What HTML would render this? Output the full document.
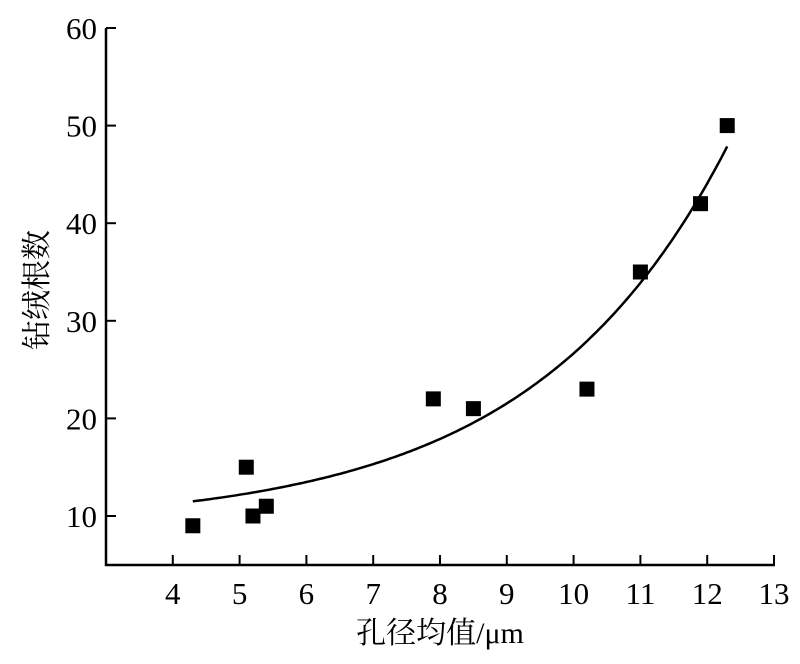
<!DOCTYPE html>
<html><head><meta charset="utf-8"><style>
html,body{margin:0;padding:0;background:#fff;}
svg{display:block;}
text{font-family:"Liberation Serif","Noto Serif CJK SC",serif;fill:#000;}
</style></head><body>
<svg id="s" width="800" height="664" viewBox="0 0 800 664">
<g stroke="#000" stroke-width="2.5" fill="none">
<line x1="106" y1="28" x2="106" y2="566"/>
<line x1="105" y1="565" x2="775" y2="565"/>
</g>
<g id="ticks" stroke="#000" stroke-width="2"></g>
<g id="labels" font-size="31"></g>
<path id="curve" fill="none" stroke="#000" stroke-width="2.5"/>
<g id="pts" fill="#000"></g>
<text x="440" y="643" font-size="30" text-anchor="middle">孔径均值/μm</text>
<text transform="translate(47,290) rotate(-90)" font-size="30" text-anchor="middle">钻绒根数</text>
</svg>
<script>
var X=function(v){return 106+(v-3)*66.8;},Y=function(v){return 516-(v-10)*9.76;};
var t=document.getElementById('ticks'),l=document.getElementById('labels'),ns='http://www.w3.org/2000/svg';
function el(p,n,a,txt){var e=document.createElementNS(ns,n);for(var k in a)e.setAttribute(k,a[k]);if(txt)e.textContent=txt;p.appendChild(e);}
for(var i=4;i<=13;i++){el(t,'line',{x1:X(i),y1:565,x2:X(i),y2:555});el(l,'text',{x:X(i),y:604,'text-anchor':'middle'},String(i));}
for(var j=10;j<=60;j+=10){el(t,'line',{x1:106,y1:Y(j),x2:116,y2:Y(j)});el(l,'text',{x:97,y:Y(j)+11,'text-anchor':'end'},String(j));}
var d='';for(var x=4.3;x<=12.301;x+=0.05){var y=9+2.5*Math.exp(0.343*(x-4.3));d+=(d?'L':'M')+X(x).toFixed(1)+','+Y(y).toFixed(1);}
document.getElementById('curve').setAttribute('d',d);
var P=[[4.3,9],[5.1,15],[5.2,10],[5.4,11],[7.9,22],[8.5,21],[10.2,23],[11,35],[11.9,42],[12.3,50]];
var g=document.getElementById('pts');P.forEach(function(p){el(g,'rect',{x:X(p[0])-7.5,y:Y(p[1])-7.5,width:15,height:15});});
</script>
</body></html>
